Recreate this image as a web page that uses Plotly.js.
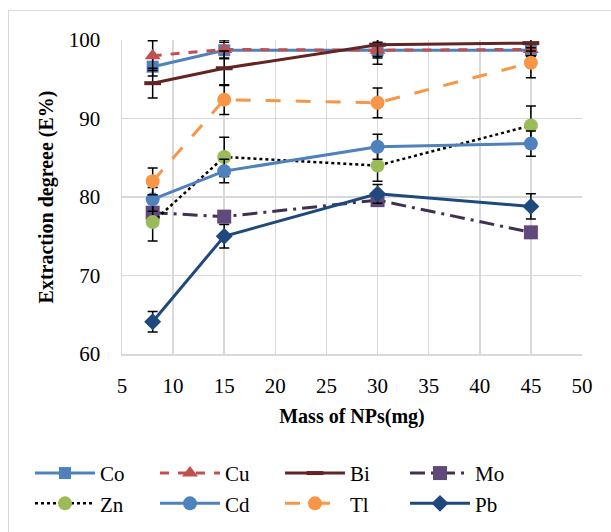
<!DOCTYPE html>
<html>
<head>
<meta charset="utf-8">
<script src="https://cdn.plot.ly/plotly-3.0.1.min.js"></script>
<style>
html,body{margin:0;padding:0;overflow:hidden;background:#fff;}
#frame{position:absolute;left:8px;top:10px;width:640px;height:560px;border:1px solid #d9d9d9;pointer-events:none;z-index:10;}
#chart{width:611px;height:532px;}
</style>
</head>
<body>
<div id="chart"></div>
<div id="frame"></div>
<script>
// Data
const mass = [8, 15, 30, 45];
const seriesNames = ["Co", "Cu", "Bi", "Mo", "Zn", "Cd", "Tl", "Pb"];
const Co = [96.6, 98.7, 98.7, 98.7];
const Cu = [98.0, 98.8, 98.7, 98.8];
const Bi = [94.5, 96.4, 99.4, 99.6];
const Mo = [78.0, 77.5, 79.6, 75.5];
const Zn = [76.8, 85.1, 84.0, 89.1];
const Cd = [79.7, 83.3, 86.4, 86.8];
const Tl = [82.0, 92.4, 92.0, 97.1];
const Pb = [64.1, 75.0, 80.4, 78.8];
const CoErr = [1.2, 1.0, 1.0, 0.8];
const CuErr = [1.9, 1.2, 1.8, 0.8];
const BiErr = [1.9, 2.2, 1.5, 1.0];
const MoErr = [0.5, 0.5, 0.4, 0.3];
const ZnErr = [2.4, 2.5, 2.0, 2.5];
const CdErr = [1.5, 1.5, 1.6, 1.6];
const TlErr = [1.7, 1.9, 1.9, 1.9];
const PbErr = [1.3, 1.5, 1.2, 1.6];

const F = "Liberation Serif, Times New Roman, serif";
function err(a){return {type:'data', array:a, visible:true, color:'#000', thickness:1.5, width:5};}

const traces = [
  {name:"Co", x:mass, y:Co, error_y:err(CoErr), mode:'lines+markers',
   line:{color:'#4f81bd', width:3}, marker:{symbol:'square', size:12, color:'#4f81bd'}},
  {name:"Cu", x:mass, y:Cu, error_y:err(CuErr), mode:'lines+markers',
   line:{color:'#c0504d', width:3, dash:'dash'}, marker:{symbol:'triangle-up', size:14, color:'#c0504d'}},
  {name:"Bi", x:mass, y:Bi, error_y:err(BiErr), mode:'lines+markers',
   line:{color:'#632523', width:3}, marker:{symbol:'line-ew', size:12, color:'#632523', line:{color:'#632523', width:4}}},
  {name:"Mo", x:mass, y:Mo, error_y:err(MoErr), mode:'lines+markers',
   line:{color:'#403152', width:3, dash:'longdashdot'}, marker:{symbol:'square', size:14, color:'#604a7b'}},
  {name:"Zn", x:mass, y:Zn, error_y:err(ZnErr), mode:'lines+markers',
   line:{color:'#000000', width:2.5, dash:'dot'}, marker:{symbol:'circle', size:14, color:'#9bbb59'}},
  {name:"Cd", x:mass, y:Cd, error_y:err(CdErr), mode:'lines+markers',
   line:{color:'#4f81bd', width:3}, marker:{symbol:'circle', size:14, color:'#4f81bd'}},
  {name:"Tl", x:mass, y:Tl, error_y:err(TlErr), mode:'lines+markers',
   line:{color:'#f79646', width:3, dash:'longdash'}, marker:{symbol:'circle', size:14, color:'#f79646'}},
  {name:"Pb", x:mass, y:Pb, error_y:err(PbErr), mode:'lines+markers',
   line:{color:'#1f497d', width:3}, marker:{symbol:'diamond', size:13, color:'#1f497d'}}
];

const layout = {
  width:611, height:532,
  margin:{l:122, r:29, t:40, b:178, autoexpand:false},
  paper_bgcolor:'#fff', plot_bgcolor:'#fff',
  font:{family:F, size:21, color:'#000'},
  showlegend:true,
  xaxis:{
    range:[5,50], dtick:5, tick0:5, showgrid:true, gridcolor:'#d9d9d9', gridwidth:1.5,
    zeroline:false, showline:true, linecolor:'#d9d9d9', linewidth:1.5, ticks:'', ticklabelstandoff:12,
    tickfont:{family:F, size:21, color:'#000'},
    title:{text:'<b>Mass of NPs(mg)</b>', font:{family:F, size:20, color:'#000'}, standoff:12}
  },
  yaxis:{
    range:[60,100], dtick:10, showgrid:true, gridcolor:'#d9d9d9', gridwidth:1.5,
    zeroline:false, showline:true, linecolor:'#d9d9d9', linewidth:1.5, ticks:'', ticklabelstandoff:16,
    tickfont:{family:F, size:21, color:'#000'},
    title:{text:'<b>Extraction degreee (E%)</b>', font:{family:F, size:20, color:'#000'}, standoff:10}
  },
  legend:{
    orientation:'h', x:-0.2, xanchor:'left', y:-0.315, yanchor:'top',
    entrywidth:50, entrywidthmode:'pixels', traceorder:'normal',
    font:{family:F, size:21, color:'#000'}, itemwidth:60, tracegroupgap:0
  }
};

Plotly.newPlot('chart', traces, layout, {displayModeBar:false, staticPlot:true});
</script>
</body>
</html>
